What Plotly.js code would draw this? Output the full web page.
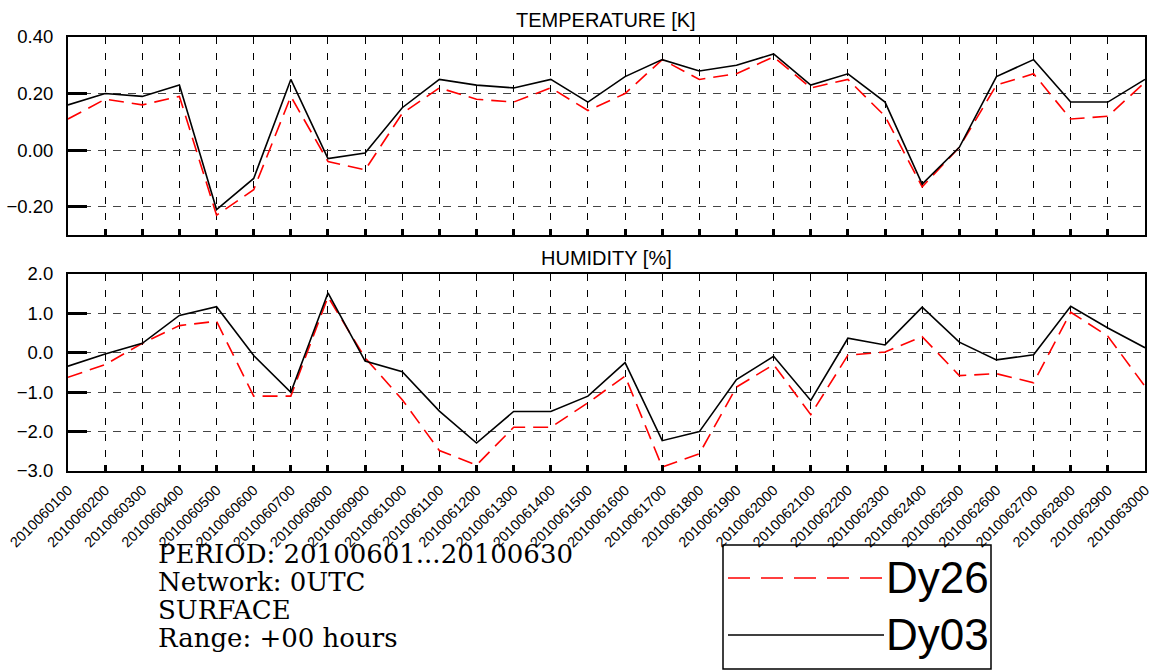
<!DOCTYPE html>
<html>
<head>
<meta charset="utf-8">
<script src="https://cdn.plot.ly/plotly-3.0.1.min.js"></script>
<style>html,body{margin:0;padding:0;background:#fff;}#chart{width:1158px;height:670px;}</style>
</head>
<body>
<div id="chart"></div>
<script>
const dates = ["2010060100","2010060200","2010060300","2010060400","2010060500","2010060600","2010060700","2010060800","2010060900","2010061000",
"2010061100","2010061200","2010061300","2010061400","2010061500","2010061600","2010061700","2010061800","2010061900","2010062000",
"2010062100","2010062200","2010062300","2010062400","2010062500","2010062600","2010062700","2010062800","2010062900","2010063000"];

const seriesNames = ["Dy26", "Dy03"];

const tempDy26 = [0.11,0.18,0.16,0.19,-0.23,-0.14,0.19,-0.04,-0.07,0.13,0.22,0.18,0.17,0.22,0.14,0.20,0.32,0.25,0.27,0.33,0.22,0.25,0.12,-0.13,0.01,0.23,0.27,0.11,0.12,0.24];
const tempDy03 = [0.16,0.20,0.19,0.23,-0.21,-0.10,0.25,-0.03,-0.01,0.15,0.25,0.23,0.22,0.25,0.17,0.26,0.32,0.28,0.30,0.34,0.23,0.27,0.17,-0.12,0.01,0.26,0.32,0.17,0.17,0.25];

const humDy26 = [-0.62,-0.30,0.24,0.69,0.80,-1.10,-1.10,1.42,-0.13,-1.19,-2.48,-2.85,-1.89,-1.89,-1.27,-0.59,-2.90,-2.56,-0.87,-0.30,-1.57,-0.06,0.02,0.41,-0.58,-0.53,-0.76,1.03,0.42,-0.85];
const humDy03 = [-0.34,-0.03,0.24,0.95,1.17,-0.07,-1.00,1.52,-0.21,-0.48,-1.48,-2.29,-1.49,-1.49,-1.10,-0.25,-2.23,-2.00,-0.68,-0.09,-1.21,0.37,0.20,1.16,0.27,-0.18,-0.05,1.18,0.63,0.13];

const panelTitles = ["TEMPERATURE [K]", "HUMIDITY [%]"];
const infoLines = ["PERIOD: 20100601...20100630", "Network: 0UTC", "SURFACE", "Range: +00 hours"];

const redStyle = {color: "#ff0000", width: 1.6, dash: "15px,8px"};
const blackStyle = {color: "#000000", width: 1.6};

const traces = [
  {x: dates, y: tempDy26, name: seriesNames[0], type: "scatter", mode: "lines", line: redStyle, xaxis: "x", yaxis: "y"},
  {x: dates, y: tempDy03, name: seriesNames[1], type: "scatter", mode: "lines", line: blackStyle, xaxis: "x", yaxis: "y"},
  {x: dates, y: humDy26, name: seriesNames[0], type: "scatter", mode: "lines", line: redStyle, xaxis: "x2", yaxis: "y2"},
  {x: dates, y: humDy03, name: seriesNames[1], type: "scatter", mode: "lines", line: blackStyle, xaxis: "x2", yaxis: "y2"}
];

const W = 1158, H = 670;
const L = 68, R = 1145, T = 37, B = 471;
const px = v => (v - L) / (R - L);
const py = v => (B - v) / (B - T);

const xCommon = {
  type: "category", range: [0, dates.length - 1], showline: true, linewidth: 2, linecolor: "#000", mirror: true,
  ticks: "inside", ticklen: 6, tickwidth: 3, tickcolor: "#000",
  showgrid: true, gridcolor: "#000", gridwidth: 1, griddash: "7px,9px", zeroline: false,
  tickfont: {family: "Liberation Sans, Arial, sans-serif", size: 14.5, color: "#000"}, tickangle: -45, ticklabelstandoff: 3
};
const yCommon = {
  showline: true, linewidth: 2, linecolor: "#000", mirror: true,
  ticks: "inside", ticklen: 19, tickwidth: 3, tickcolor: "#000",
  showgrid: true, gridcolor: "#444", gridwidth: 1, griddash: "8px,7px", zeroline: false,
  tickfont: {family: "Liberation Sans, Arial, sans-serif", size: 18.5, color: "#000"}, ticklabelstandoff: 9
};

const layout = {
  width: W, height: H,
  margin: {l: L, r: W - R, t: T, b: H - B},
  paper_bgcolor: "#fff", plot_bgcolor: "#fff",
  showlegend: false,
  xaxis: Object.assign({}, xCommon, {anchor: "y", showticklabels: false, domain: [0, 1]}),
  yaxis: Object.assign({}, yCommon, {anchor: "x", domain: [py(235), 1], range: [-0.3, 0.4], tick0: 0, dtick: 0.2, tickformat: ".2f"}),
  xaxis2: Object.assign({}, xCommon, {anchor: "y2", showticklabels: true, domain: [0, 1]}),
  yaxis2: Object.assign({}, yCommon, {anchor: "x2", domain: [0, py(274)], range: [-3, 2], tick0: 0, dtick: 1, tickformat: ".1f"}),
  annotations: [
    {text: panelTitles[0], xref: "paper", yref: "paper", x: px(606), y: py(20), xanchor: "center", yanchor: "middle", showarrow: false,
     font: {family: "Liberation Sans, Arial, sans-serif", size: 20, color: "#000"}},
    {text: panelTitles[1], xref: "paper", yref: "paper", x: px(606), y: py(258), xanchor: "center", yanchor: "middle", showarrow: false,
     font: {family: "Liberation Sans, Arial, sans-serif", size: 20, color: "#000"}}
  ],
  shapes: [
    {type: "rect", xref: "paper", yref: "paper", x0: px(723), x1: px(991), y0: py(669), y1: py(545), line: {color: "#000", width: 1.5}, fillcolor: "rgba(0,0,0,0)"},
    {type: "line", xref: "paper", yref: "paper", x0: px(728), x1: px(884), y0: py(578), y1: py(578), line: {color: "#ff0000", width: 1.6, dash: "22px,11px"}},
    {type: "line", xref: "paper", yref: "paper", x0: px(728), x1: px(884), y0: py(635), y1: py(635), line: {color: "#000", width: 1.6}}
  ]
};

const infoY = [554, 582, 610, 638];
infoLines.forEach((t, i) => {
  layout.annotations.push({text: t, xref: "paper", yref: "paper", x: px(156), y: py(infoY[i]), xanchor: "left", yanchor: "middle", showarrow: false,
    height: 28, valign: "middle",
    font: {family: "DejaVu Serif, serif", size: 26, color: "#000"}});
});
const legY = [577, 634];
seriesNames.forEach((n, i) => {
  layout.annotations.push({text: n, xref: "paper", yref: "paper", x: px(884), y: py(legY[i]), xanchor: "left", yanchor: "middle", showarrow: false,
    font: {family: "Liberation Sans, Arial, sans-serif", size: 44, color: "#000"}});
});

Plotly.newPlot("chart", traces, layout, {displayModeBar: false, staticPlot: true});
</script>
</body>
</html>
